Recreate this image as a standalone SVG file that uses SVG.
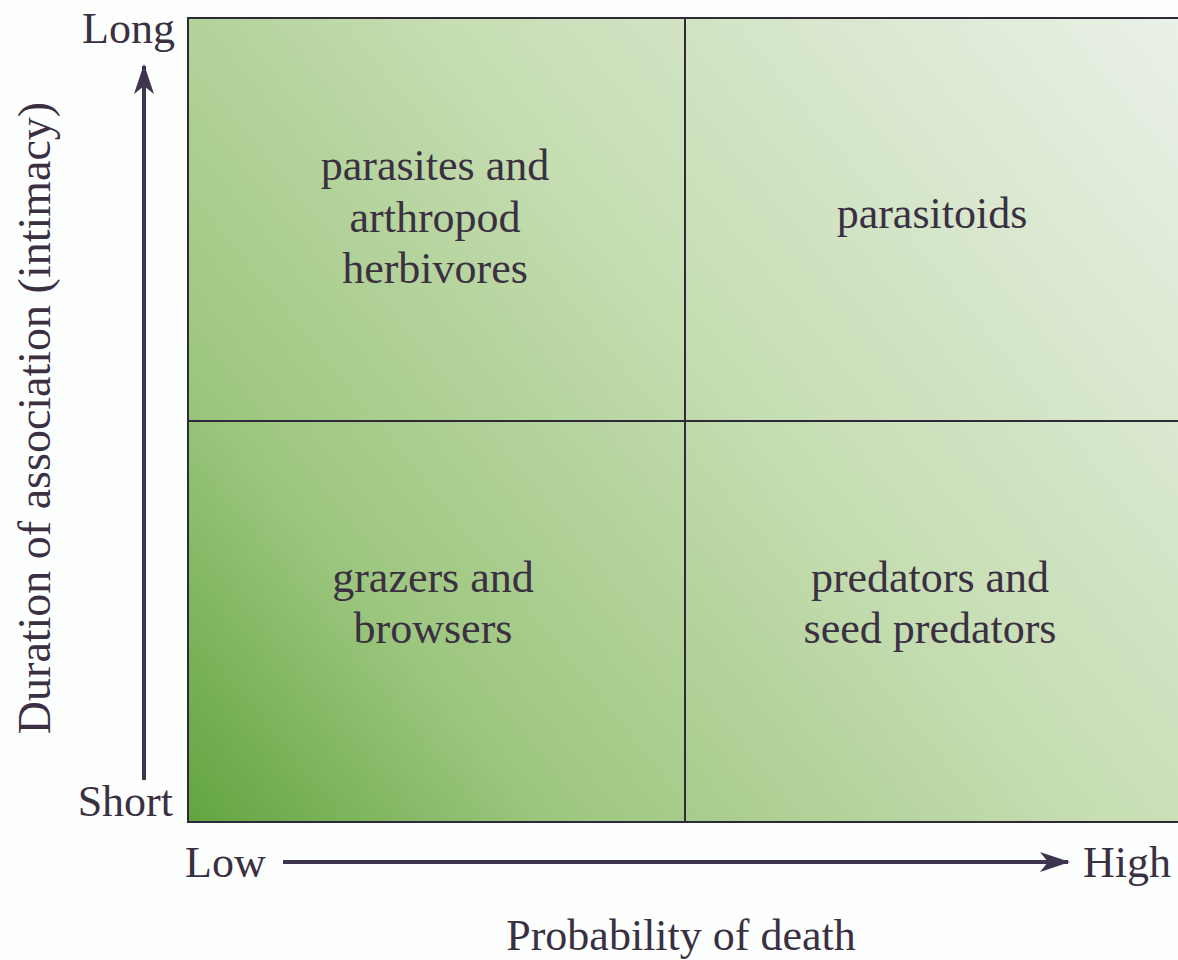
<svg xmlns="http://www.w3.org/2000/svg" width="1178" height="960" viewBox="0 0 1178 960">
<style>
text{font-family:"Liberation Serif","DejaVu Serif",serif;fill:#3a3042;font-size:44px}
.c{text-anchor:middle}
.ln{stroke:#2e2a3a;stroke-width:2;fill:none}
.ax{stroke:#3f3550;stroke-width:4;fill:none}
</style>
<defs>
<linearGradient id="g" gradientUnits="userSpaceOnUse" x1="188" y1="822" x2="1178" y2="18">
<stop offset="0" stop-color="#62a440"/>
<stop offset="0.22" stop-color="#9cc67e"/>
<stop offset="0.55" stop-color="#c6ddb2"/>
<stop offset="1" stop-color="#eaf1e8"/>
</linearGradient>
<marker id="ah" viewBox="0 0 30 20" refX="28" refY="10" markerWidth="30" markerHeight="20" markerUnits="userSpaceOnUse" orient="auto">
<path d="M0,0 L30,10 L0,20 L8,10 Z" fill="#3f3550"/>
</marker>
</defs>
<rect width="1178" height="960" fill="#fdfefe"/>
<g id="grid">
<rect x="188" y="18" width="1000" height="804" fill="url(#g)"/>
<path class="ln" d="M1178,18 H188 V822 H1178"/>
<path class="ln" d="M685,18 V822 M188,421 H1178"/>
</g>
<g id="connectors">
<line class="ax" x1="144" y1="780" x2="144" y2="66" marker-end="url(#ah)"/>
<line class="ax" x1="283" y1="862" x2="1068" y2="862" marker-end="url(#ah)"/>
</g>
<g id="q1"><text class="c" x="435" y="180">parasites and</text><text class="c" x="435" y="232">arthropod</text><text class="c" x="435" y="283">herbivores</text></g>
<g id="q2"><text class="c" x="932" y="228">parasitoids</text></g>
<g id="q3"><text class="c" x="433" y="592">grazers and</text><text class="c" x="433" y="643">browsers</text></g>
<g id="q4"><text class="c" x="930" y="592">predators and</text><text class="c" x="930" y="643">seed predators</text></g>
<g id="labels">
<text x="175" y="43" text-anchor="end">Long</text>
<text x="173" y="816" text-anchor="end">Short</text>
<text x="185" y="877">Low</text>
<text x="1083" y="877">High</text>
<text class="c" x="681" y="950">Probability of death</text>
<text class="c" transform="translate(50,418) rotate(-90)" style="font-size:46px">Duration of association (intimacy)</text>
</g>
</svg>
